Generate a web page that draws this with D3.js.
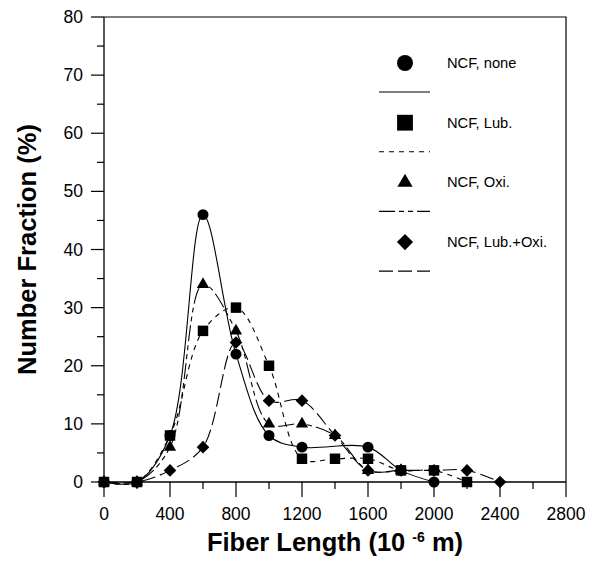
<!DOCTYPE html>
<html>
<head>
<meta charset="utf-8">
<script src="https://cdn.jsdelivr.net/npm/d3@7"></script>
<style>
  body { margin: 0; background: #fff; }
  svg { font-family: Arial, "Liberation Sans", sans-serif; }
</style>
</head>
<body>
<div id="chart"></div>
<script>
// valeurs (longueur en 10^-6 m, fraction en %)
const lenNone = [0, 200, 400, 600, 800, 1000, 1200, 1600, 1800, 2000];
const fracNone = [0, 0, 8, 46, 22, 8, 6, 6, 2, 0];

const lenLub = [0, 200, 400, 600, 800, 1000, 1200, 1400, 1600, 1800, 2000, 2200];
const fracLub = [0, 0, 8, 26, 30, 20, 4, 4, 4, 2, 2, 0];

const lenOxi = [0, 200, 400, 600, 800, 1000, 1200, 1400, 1600, 1800];
const fracOxi = [0, 0, 6, 34, 26, 10, 10, 8, 2, 2];

const lenLubOxi = [0, 200, 400, 600, 800, 1000, 1200, 1400, 1600, 1800, 2000, 2200, 2400];
const fracLubOxi = [0, 0, 2, 6, 24, 14, 14, 8, 2, 2, 2, 2, 0];

const seriesNames = ["NCF, none", "NCF, Lub.", "NCF, Oxi.", "NCF, Lub.+Oxi."];
const xTicks = [0, 400, 800, 1200, 1600, 2000, 2400, 2800];
const yTicks = [0, 10, 20, 30, 40, 50, 60, 70, 80];

const width = 589, height = 573;
const plot = { left: 104, right: 566, top: 17, bottom: 482 };

const svg = d3.select("#chart").append("svg")
    .attr("width", width)
    .attr("height", height);

const x = d3.scaleLinear().domain([0, 2800]).range([plot.left, plot.right]);
const y = d3.scaleLinear().domain([0, 80]).range([plot.bottom, plot.top]);

// styles de chaque série : symbole, pointillé
const styles = [
    { sym: d3.symbolCircle, size: 95, lsize: 200, rot: 0, dash: null },
    { sym: d3.symbolSquare, size: 110, lsize: 250, rot: 0, dash: "5,5" },
    { sym: d3.symbolTriangle, size: 65, lsize: 100, rot: 0, dash: "16,4,5,4,5,4" },
    { sym: d3.symbolSquare, size: 80, lsize: 130, rot: 45, dash: "14,5" }
];

const series = [
    d3.zip(lenNone, fracNone),
    d3.zip(lenLub, fracLub),
    d3.zip(lenOxi, fracOxi),
    d3.zip(lenLubOxi, fracLubOxi)
];

// cadre (haut + droite)
svg.append("path")
    .attr("d", `M${plot.left},${plot.top}H${plot.right}V${plot.bottom}`)
    .attr("fill", "none")
    .attr("stroke", "#000")
    .attr("stroke-width", 1.2);

// axe X
const xAxis = svg.append("g").attr("transform", `translate(0,${plot.bottom})`);
xAxis.append("line")
    .attr("x1", plot.left).attr("x2", plot.right)
    .attr("stroke", "#000").attr("stroke-width", 1.3);
xAxis.selectAll(".minor")
    .data(d3.range(200, 2800, 400))
    .enter().append("line")
    .attr("x1", d => x(d)).attr("x2", d => x(d))
    .attr("y1", 0).attr("y2", 7)
    .attr("stroke", "#000").attr("stroke-width", 1.2);
xAxis.selectAll(".major")
    .data(xTicks)
    .enter().append("line")
    .attr("x1", d => x(d)).attr("x2", d => x(d))
    .attr("y1", 0).attr("y2", 15)
    .attr("stroke", "#000").attr("stroke-width", 1.2);
xAxis.selectAll("text")
    .data(xTicks)
    .enter().append("text")
    .attr("x", d => x(d))
    .attr("y", 38)
    .attr("text-anchor", "middle")
    .style("font-size", "17.5px")
    .text(d => d);

// axe Y
const yAxis = svg.append("g").attr("transform", `translate(${plot.left},0)`);
yAxis.append("line")
    .attr("y1", plot.top).attr("y2", plot.bottom)
    .attr("stroke", "#000").attr("stroke-width", 1.3);
yAxis.selectAll(".minor")
    .data(d3.range(5, 80, 10))
    .enter().append("line")
    .attr("y1", d => y(d)).attr("y2", d => y(d))
    .attr("x1", -7).attr("x2", 0)
    .attr("stroke", "#000").attr("stroke-width", 1.2);
yAxis.selectAll(".major")
    .data(yTicks)
    .enter().append("line")
    .attr("y1", d => y(d)).attr("y2", d => y(d))
    .attr("x1", -13).attr("x2", 0)
    .attr("stroke", "#000").attr("stroke-width", 1.2);
yAxis.selectAll("text")
    .data(yTicks)
    .enter().append("text")
    .attr("x", -21)
    .attr("y", d => y(d) + 6)
    .attr("text-anchor", "end")
    .style("font-size", "17.5px")
    .text(d => d);

// titres des axes
svg.append("text")
    .attr("transform", `translate(36,${(plot.top + plot.bottom) / 2}) rotate(-90)`)
    .attr("text-anchor", "middle")
    .style("font-size", "25.5px")
    .style("font-weight", "bold")
    .text("Number Fraction (%)");

const xt = svg.append("text")
    .attr("x", (plot.left + plot.right) / 2)
    .attr("y", 551)
    .attr("text-anchor", "middle")
    .style("font-size", "25.5px")
    .style("font-weight", "bold");
xt.append("tspan").text("Fiber Length (10 ");
xt.append("tspan").attr("dy", -9).style("font-size", "14px").text("-6");
xt.append("tspan").attr("dy", 9).text(" m)");

// courbes lissées
const line = d3.line()
    .x(d => x(d[0]))
    .y(d => y(d[1]))
    .curve(d3.curveCatmullRom.alpha(0.5));

series.forEach((s, i) => {
    svg.append("path")
        .datum(s)
        .attr("d", line)
        .attr("fill", "none")
        .attr("stroke", "#000")
        .attr("stroke-width", 1.1)
        .attr("stroke-dasharray", styles[i].dash);
});

// symboles (ordre : cercle, triangle, losange, carré)
[0, 2, 3, 1].forEach(i => {
    const st = styles[i];
    svg.append("g").selectAll("path")
        .data(series[i])
        .enter().append("path")
        .attr("transform", d => `translate(${x(d[0])},${y(d[1])}) rotate(${st.rot})`)
        .attr("d", d3.symbol().type(st.sym).size(st.size))
        .attr("fill", "#000");
});

// légende
const legend = svg.append("g");
seriesNames.forEach((name, i) => {
    const st = styles[i];
    const yRow = 63 + i * 59.7;
    legend.append("path")
        .attr("transform", `translate(405,${yRow}) rotate(${st.rot})`)
        .attr("d", d3.symbol().type(st.sym).size(st.lsize))
        .attr("fill", "#000");
    legend.append("text")
        .attr("x", 447)
        .attr("y", yRow + 5)
        .style("font-size", "14.7px")
        .text(name);
    legend.append("line")
        .attr("x1", 379).attr("x2", 430)
        .attr("y1", yRow + 29).attr("y2", yRow + 29)
        .attr("stroke", "#000")
        .attr("stroke-width", 1.1)
        .attr("stroke-dasharray", st.dash);
});
</script>
</body>
</html>
